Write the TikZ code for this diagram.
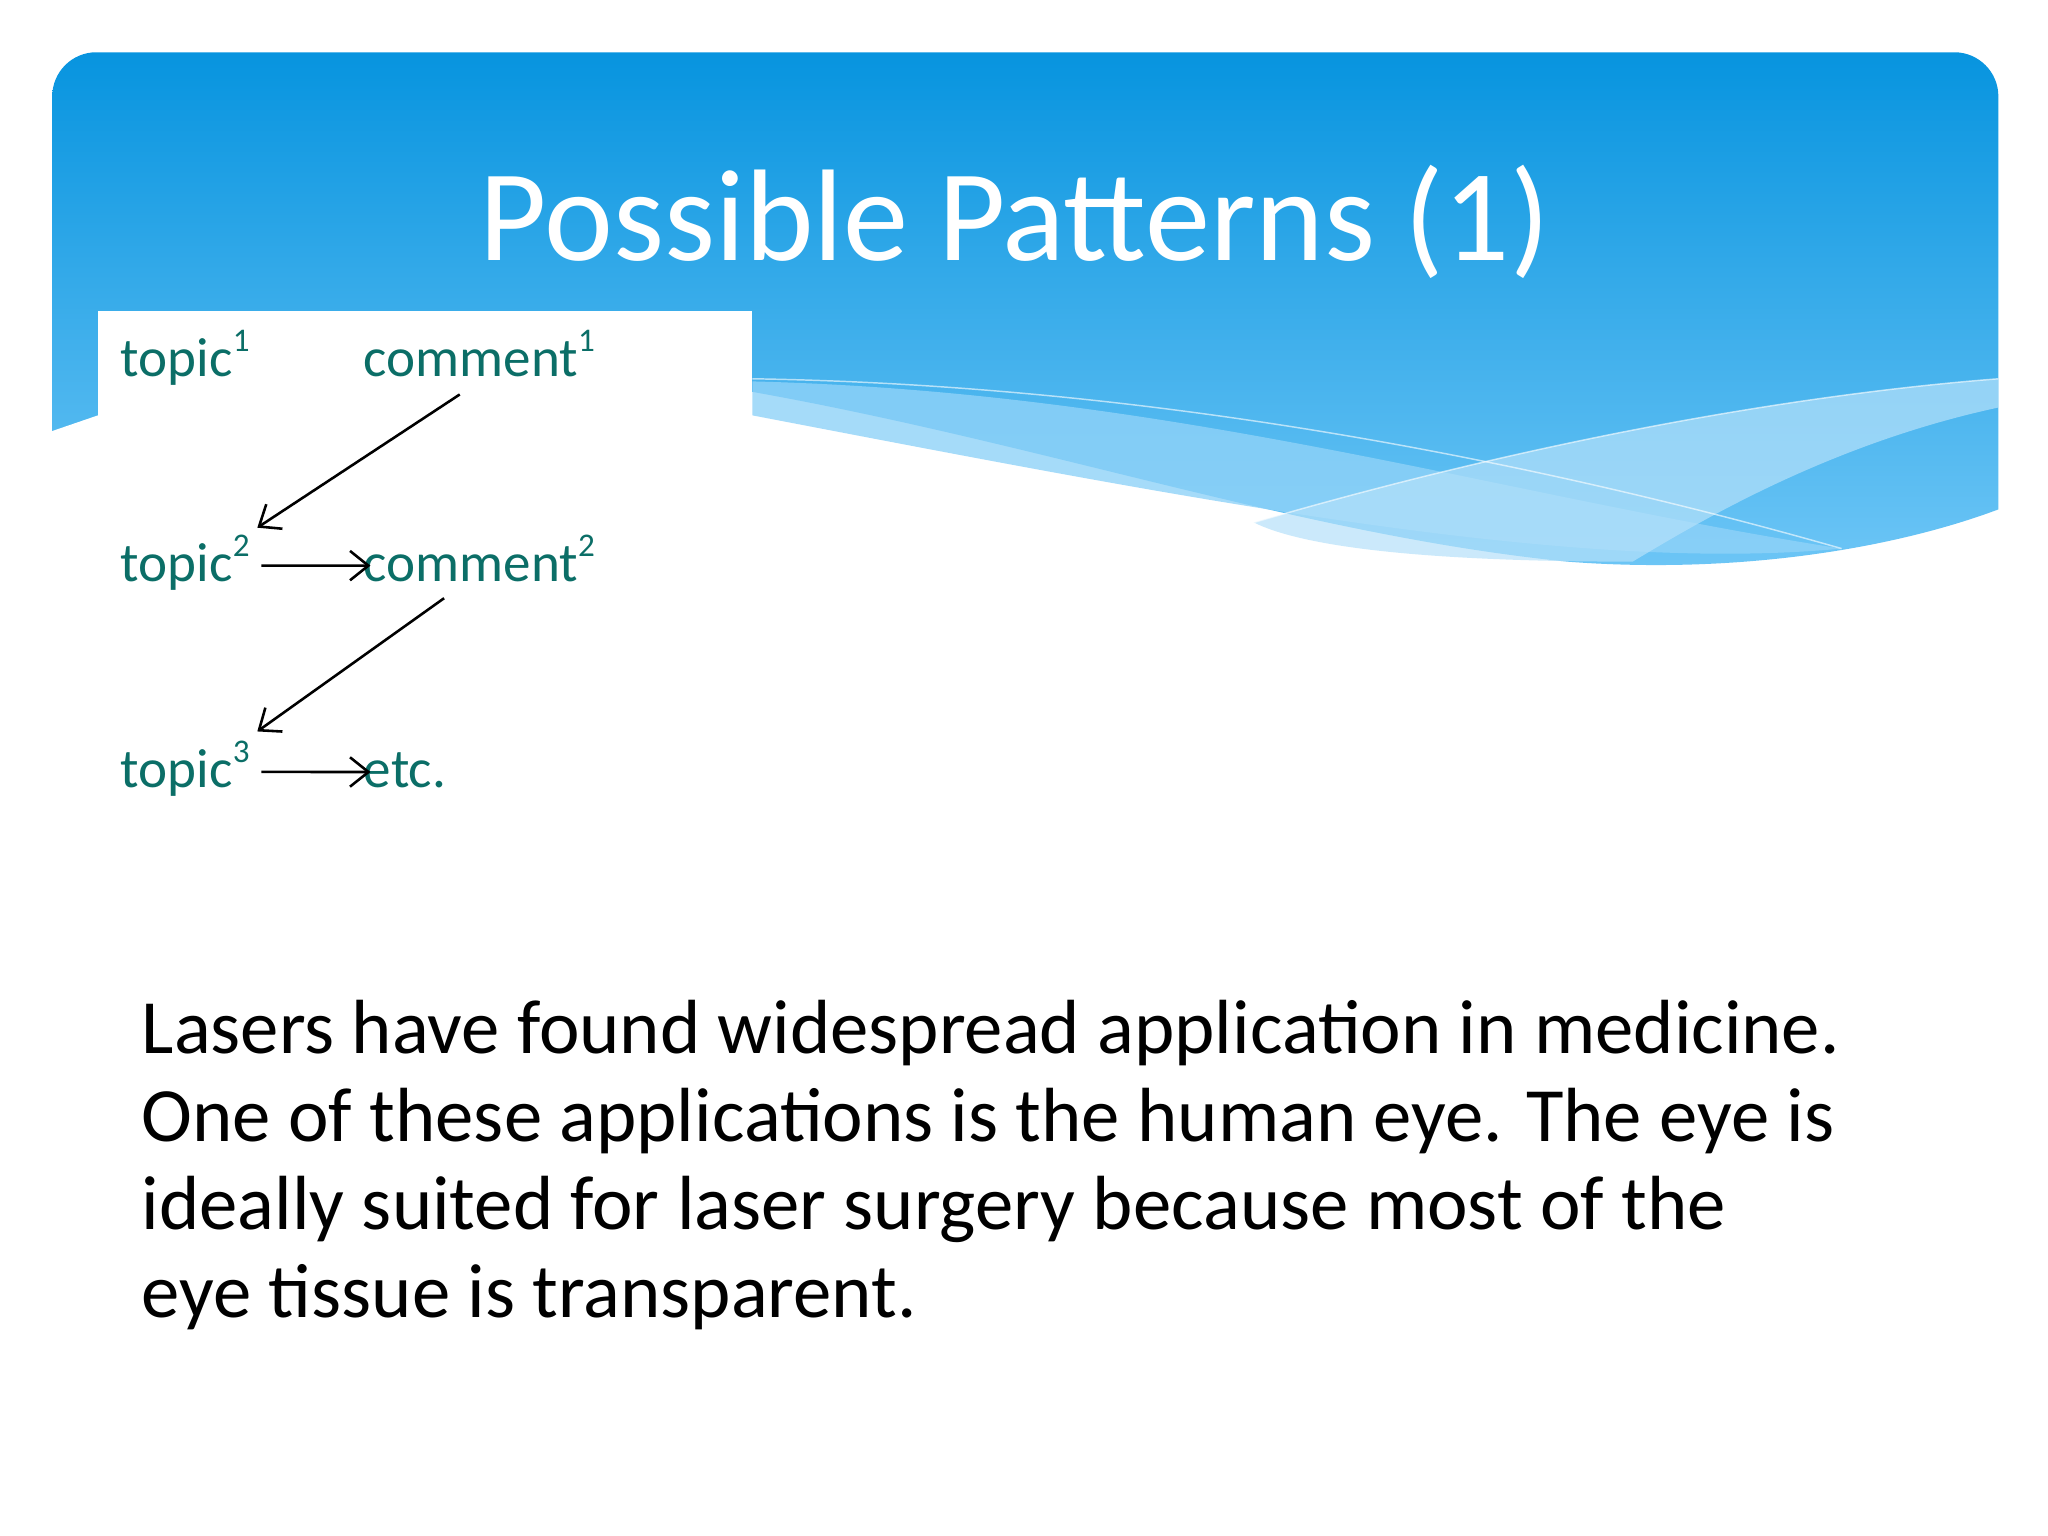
\documentclass[tikz,border=0pt]{standalone}
\usepackage{fontspec}
\setmainfont{Carlito}
\definecolor{teal1}{HTML}{0B6E67}
\definecolor{bluetop}{HTML}{0794DF}
\definecolor{bluebot}{HTML}{6EC6F6}
\definecolor{wave1}{HTML}{8FD2F8}
\definecolor{wave2}{HTML}{B5E1FA}
\newcommand{\sups}[1]{\raisebox{0.45em}{\fontsize{9}{9}\selectfont #1}}
\tikzset{lab/.style={text=teal1,font=\fontsize{15}{18}\selectfont,anchor=base west,inner sep=0pt},
 arr/.style={-{Straight Barb[length=5pt,width=8pt]},line width=0.7pt}}
\usetikzlibrary{arrows.meta}
\begin{document}
\begin{tikzpicture}[x=0.0125cm,y=-0.0125cm]
\useasboundingbox (0,0) rectangle (1568,1176);
\fill[white] (0,0) rectangle (1568,1176);
% banner
\shade[top color=bluetop,bottom color=bluebot,rounded corners=12]
 (40,330) -- (40,40) -- (1530,40) -- (1530,390) [sharp corners] -- (1530,390)
 .. controls (1450,420) and (1330,440) .. (1200,430)
 .. controls (1000,410) and (800,340) .. (576,300) -- (40,330) -- cycle;
\fill[wave1,opacity=0.8] (576,292) .. controls (900,300) and (1150,380) .. (1410,420)
 .. controls (1200,440) and (900,380) .. (576,318) -- cycle;
\fill[wave2,opacity=0.7] (960,400) .. controls (1200,330) and (1400,300) .. (1530,290)
 -- (1530,312) .. controls (1400,340) and (1300,400) .. (1250,430)
 .. controls (1100,430) and (1000,420) .. (960,400) -- cycle;
\draw[white,opacity=0.6,line width=0.4pt] (576,290) .. controls (900,295) and (1200,360) .. (1410,420);
\draw[white,opacity=0.6,line width=0.4pt] (960,400) .. controls (1200,330) and (1400,300) .. (1530,290);
\fill[white] (75,238) rectangle (576,420);
\fill[white] (40,330) -- (75,318) -- (75,420) -- (40,420) -- cycle;
\node[text=white,font=\fontsize{35.5}{42}\selectfont,inner sep=0pt] (title) at (777,170) {Possible Patterns (1)};
% diagram
\node[lab] (t1) at (92,288) {topic\sups{1}};
\node[lab] (c1) at (278,288) {comment\sups{1}};
\node[lab] (t2) at (92,445) {topic\sups{2}};
\node[lab] (c2) at (278,445) {comment\sups{2}};
\node[lab] (t3) at (92,603) {topic\sups{3}};
\node[lab] (e3) at (278,603) {etc.};
\coordinate (a1s) at (352,302); \coordinate (a1e) at (197,404);
\coordinate (a2s) at (340,458); \coordinate (a2e) at (197,560);
\draw[arr] (a1s) -- (a1e);
\draw[arr] (a2s) -- (a2e);
\draw[arr] ([xshift=3pt]t2.base east) ++(0,-12) coordinate (b2s) (b2s) -- ([xshift=2pt,yshift=12*0.354pt]c2.base west);
\draw[arr] ([xshift=3pt]t3.base east) ++(0,-12) coordinate (b3s) (b3s) -- ([xshift=2pt,yshift=12*0.354pt]e3.base west);
% paragraph
\node[anchor=north west,inner sep=0pt,align=left,font=\fontsize{20.9}{24}\selectfont] (para) at (108,765)
{Lasers have found widespread application in medicine.\\
One of these applications is the human eye. The eye is\\
ideally suited for laser surgery because most of the\\
eye tissue is transparent.};
\end{tikzpicture}
\end{document}
